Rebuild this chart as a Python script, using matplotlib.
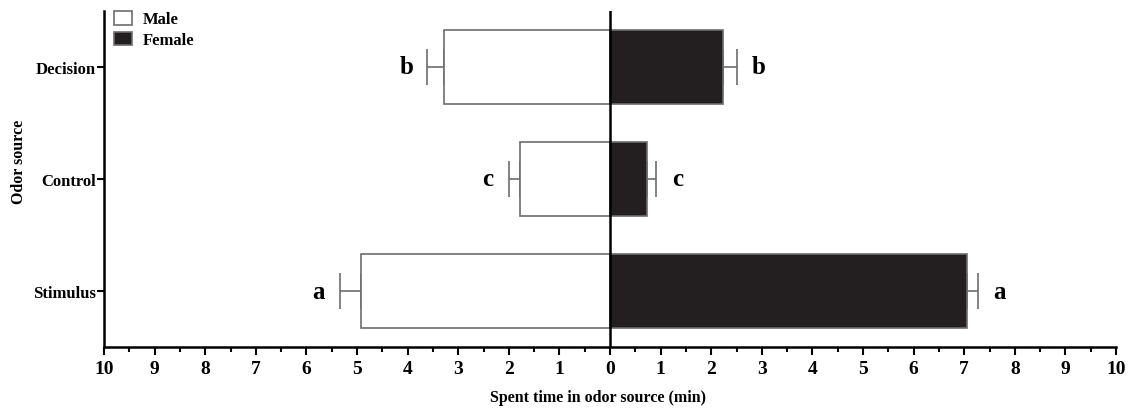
import matplotlib.pyplot as plt
import numpy as np

plt.rcParams['font.family'] = ['Liberation Serif', 'DejaVu Serif']
plt.rcParams['font.weight'] = 'bold'

# data (minutes)
sources = ['Stimulus', 'Control', 'Decision']
male = [4.93, 1.78, 3.28]
male_err = [0.41, 0.22, 0.33]
female = [7.06, 0.73, 2.23]
female_err = [0.22, 0.18, 0.28]
male_letters = ['a', 'c', 'b']
female_letters = ['a', 'c', 'b']

fig = plt.figure(figsize=(11.32, 4.10), dpi=100)
ax = fig.add_axes([0.0919, 0.151, 0.894, 0.820])

y = np.arange(len(sources))
h = 0.66
edge = '#6d6d6d'

ax.barh(y, -np.array(male), height=h, color='white', edgecolor=edge, lw=1.2, label='Male', zorder=2)
ax.barh(y, female, height=h, color='#231f20', edgecolor=edge, lw=1.2, label='Female', zorder=2)

# one-sided error bars
ax.errorbar(-np.array(male), y, xerr=[male_err, np.zeros(3)], fmt='none',
            ecolor=edge, elinewidth=1.2, capsize=13, capthick=1.2, zorder=1)
ax.errorbar(female, y, xerr=[np.zeros(3), female_err], fmt='none',
            ecolor=edge, elinewidth=1.2, capsize=13, capthick=1.2, zorder=1)

for i in range(3):
    ax.text(-male[i] - male_err[i] - 0.42, y[i], male_letters[i], ha='center', va='center',
            fontsize=18, fontweight='bold')
    ax.text(female[i] + female_err[i] + 0.42, y[i], female_letters[i], ha='center', va='center',
            fontsize=18, fontweight='bold')

ax.axvline(0, color='black', lw=1.8, zorder=3)

ax.set_xlim(-10, 10)
ax.set_ylim(-0.5, 2.5)
ticks = np.arange(-10, 11, 1)
ax.set_xticks(ticks)
ax.set_xticklabels([str(abs(t)) for t in ticks], fontsize=14, fontweight='bold')
ax.set_xticks(np.arange(-9.5, 10, 1), minor=True)
ax.set_yticks(y)
ax.set_yticklabels(sources, fontsize=12, fontweight='bold')
ax.tick_params(axis='x', which='major', direction='out', length=6, width=1.5, pad=3)
ax.tick_params(axis='x', which='minor', direction='out', length=3.5, width=1.5)
ax.tick_params(axis='y', direction='out', length=5, width=1.5, pad=1)

for s in ['top', 'right']:
    ax.spines[s].set_visible(False)
for s in ['left', 'bottom']:
    ax.spines[s].set_linewidth(1.8)

ax.set_xlabel('Spent time in odor source (min)', fontsize=11.5, fontweight='bold')
ax.xaxis.set_label_coords(0.488, -0.125)
ax.set_ylabel('Odor source', fontsize=11.5, fontweight='bold')
ax.yaxis.set_label_coords(-0.076, 0.555)

ax.legend(loc='upper left', bbox_to_anchor=(-0.002, 1.035), frameon=False, fontsize=12,
          handlelength=1.1, handleheight=0.9, handletextpad=0.65, labelspacing=0.25,
          borderaxespad=0.3)

fig.savefig('out.png', dpi=100)
